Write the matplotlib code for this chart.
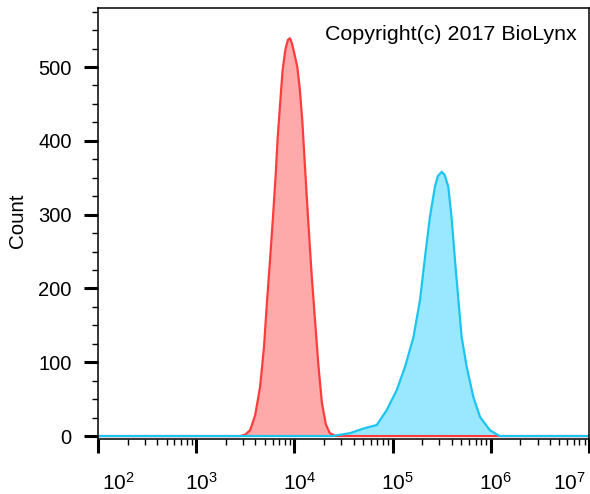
import numpy as np
import matplotlib
matplotlib.use('agg')
import matplotlib.pyplot as plt
from matplotlib.ticker import FixedLocator, MultipleLocator
from matplotlib.transforms import ScaledTranslation

plt.rcParams['font.family'] = ['Liberation Sans', 'DejaVu Sans']

# fluorescence intensity (linear units, drawn on log axis) and event counts
red_x = [100, 2818, 3162, 3548, 3981, 4467, 4898, 5248, 5623, 6026, 6457,
         6761, 7244, 7586, 8128, 8610, 9016, 9441, 10000, 10715, 11350,
         12023, 12882, 13804, 14962, 16218, 17579, 19055, 20893, 22909,
         26303, 1e7]
red_count = [0, 0, 2, 8, 28, 66, 120, 180, 235, 293, 355,
             405, 460, 496, 525, 537, 539, 532, 518, 500, 470,
             428, 360, 293, 220, 157, 95, 45, 16, 4,
             0, 0]

blue_x = [100, 24500, 37000, 50000, 69000, 87000, 110000, 134000, 163000,
          190000, 214000, 240000, 270000, 288400, 316000, 338800, 369000,
          398000, 432000, 468000, 505000, 568000, 664000, 776000, 977000,
          1230000, 1e7]
blue_count = [0, 0, 4, 10, 15, 35, 62, 94, 134,
              184, 243, 297, 338, 352, 358, 354, 338,
              297, 238, 184, 134, 94, 53, 26, 8,
              0, 0]

x_ticks = [1e2, 1e3, 1e4, 1e5, 1e6, 1e7]
x_ticklabels = [r'$\mathregular{10^{%d}}$' % i for i in range(2, 8)]
y_ticks = [0, 100, 200, 300, 400, 500]

fig = plt.figure(figsize=(5.9, 4.94), dpi=100)
ax = fig.add_axes([98 / 590, 1 - 439 / 494, 491 / 590, 431 / 494])

ax.fill_between(red_x, red_count, 0, color='#ffaaaa', lw=0)
ax.plot(red_x, red_count, color='#ff3c3c', lw=1.6)
ax.fill_between(blue_x, blue_count, 0, color='#9ae8ff', lw=0)
ax.plot(blue_x, blue_count, color='#1cc4f0', lw=1.6)

ax.set_xscale('log')
ax.set_xlim(1e2, 1e7)
ax.set_ylim(-4, 580)

ax.xaxis.set_major_locator(FixedLocator(x_ticks))
ax.xaxis.set_minor_locator(FixedLocator(
    [m * 10 ** d for d in range(2, 7) for m in range(2, 10)]))
ax.set_xticks(x_ticks)
ax.set_xticklabels(x_ticklabels)
ax.set_yticks(y_ticks)
ax.yaxis.set_minor_locator(MultipleLocator(25))

ax.tick_params(which='major', length=10, width=2.2, direction='out')
ax.tick_params(axis='x', which='major', labelsize=15, pad=14)
ax.tick_params(axis='y', which='major', labelsize=14.5, pad=9)
ax.tick_params(which='minor', length=4.5, width=1.0, direction='out')

for s in ax.spines.values():
    s.set_linewidth(1.1)

# keep the end labels inside the plot like the original software does
shifts = [20, 5, 5, 5, 5, -20]
for lab, dx in zip(ax.get_xticklabels(), shifts):
    lab.set_transform(lab.get_transform() +
                      ScaledTranslation(dx / 100, 0, fig.dpi_scale_trans))

fig.text(17.5 / 590, 1 - 221 / 494, 'Count', rotation=90,
         ha='center', va='center', fontsize=14.8)
ax.text(0.9756, 0.926, 'Copyright(c) 2017 BioLynx', transform=ax.transAxes,
        ha='right', va='baseline', fontsize=15.4)

fig.savefig('out.png', dpi=100)
